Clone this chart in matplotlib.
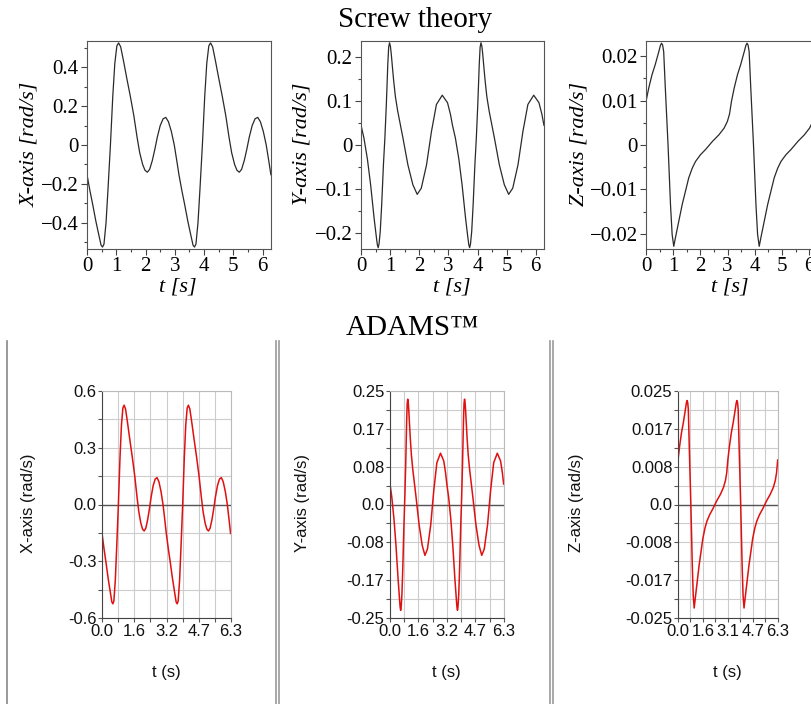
import numpy as np
import matplotlib.pyplot as plt
from matplotlib.lines import Line2D
from matplotlib.ticker import MultipleLocator

# angular velocity of the platform
t_x = [0.00, 0.10, 0.20, 0.30, 0.40, 0.48, 0.53, 0.58, 0.65, 0.72, 0.80, 0.88,
       0.95, 1.02, 1.08, 1.15, 1.25, 1.35, 1.48, 1.60, 1.71, 1.80, 1.90, 1.98,
       2.06, 2.14, 2.23, 2.32, 2.40, 2.50, 2.60, 2.69, 2.78, 2.88, 2.98, 3.06,
       3.14, 3.24, 3.34, 3.44, 3.54, 3.62, 3.67, 3.72, 3.79, 3.86, 3.94, 4.02,
       4.09, 4.16, 4.22, 4.29, 4.39, 4.49, 4.62, 4.74, 4.85, 4.94, 5.04, 5.12,
       5.20, 5.28, 5.37, 5.46, 5.54, 5.64, 5.74, 5.83, 5.92, 6.02, 6.12, 6.20,
       6.28]
x_rate = [-0.153, -0.235, -0.31, -0.39, -0.46, -0.515, -0.525, -0.51, -0.40, -0.22, 0.00, 0.25,
          0.42, 0.51, 0.525, 0.505, 0.43, 0.35, 0.25, 0.15, 0.04, -0.04, -0.10, -0.13,
          -0.14, -0.125, -0.08, -0.02, 0.04, 0.10, 0.135, 0.142, 0.12, 0.07, 0.0, -0.075,
          -0.153, -0.235, -0.31, -0.39, -0.46, -0.515, -0.525, -0.51, -0.40, -0.22, 0.00, 0.25,
          0.42, 0.51, 0.525, 0.505, 0.43, 0.35, 0.25, 0.15, 0.04, -0.04, -0.10, -0.13,
          -0.14, -0.125, -0.08, -0.02, 0.04, 0.10, 0.135, 0.142, 0.12, 0.07, 0.0, -0.075,
          -0.153]

t_y = [0.00, 0.10, 0.22, 0.33, 0.45, 0.52, 0.56, 0.59, 0.62, 0.66, 0.71, 0.77,
       0.82, 0.87, 0.92, 0.95, 0.98, 1.01, 1.04, 1.08, 1.12, 1.18, 1.26, 1.44,
       1.61, 1.78, 1.93, 2.07, 2.25, 2.42, 2.59, 2.79, 2.97, 3.07,
       3.14, 3.24, 3.36, 3.47, 3.59, 3.66, 3.70, 3.73, 3.76, 3.80, 3.85, 3.91,
       3.96, 4.01, 4.06, 4.09, 4.12, 4.15, 4.18, 4.22, 4.26, 4.32, 4.40, 4.58,
       4.75, 4.92, 5.07, 5.21, 5.39, 5.56, 5.73, 5.93, 6.11, 6.21, 6.28]
y_rate = [0.045, 0.016, -0.032, -0.09, -0.166, -0.205, -0.226, -0.233, -0.224, -0.197, -0.136, -0.045,
          0.016, 0.092, 0.183, 0.222, 0.232, 0.224, 0.206, 0.176, 0.147, 0.110, 0.077, 0.016,
          -0.045, -0.09, -0.112, -0.098, -0.045, 0.031, 0.092, 0.113, 0.096, 0.07,
          0.045, 0.016, -0.032, -0.09, -0.166, -0.205, -0.226, -0.233, -0.224, -0.197, -0.136, -0.045,
          0.016, 0.092, 0.183, 0.222, 0.232, 0.224, 0.206, 0.176, 0.147, 0.110, 0.077, 0.016,
          -0.045, -0.09, -0.112, -0.098, -0.045, 0.031, 0.092, 0.113, 0.096, 0.07, 0.045]

t_z = [0.00, 0.10, 0.22, 0.34, 0.47, 0.53, 0.57, 0.61, 0.65, 0.71, 0.81, 0.90,
       0.96, 1.02, 1.08, 1.18, 1.33, 1.45, 1.57, 1.70, 1.82, 2.00, 2.19, 2.44,
       2.68, 2.87, 2.99, 3.07,
       3.14, 3.24, 3.36, 3.48, 3.61, 3.67, 3.71, 3.75, 3.79, 3.85, 3.95, 4.04,
       4.10, 4.16, 4.22, 4.32, 4.47, 4.59, 4.71, 4.84, 4.96, 5.14, 5.33, 5.58,
       5.82, 6.01, 6.13, 6.21, 6.28]
z_rate = [0.0098, 0.0128, 0.0158, 0.0181, 0.0210, 0.0224, 0.0229, 0.0225, 0.0210, 0.0128, 0.0, -0.0134,
          -0.0201, -0.0228, -0.0209, -0.0179, -0.0134, -0.0104, -0.0074, -0.0052, -0.0037, -0.0022, -0.0010, 0.0008,
          0.0023, 0.0038, 0.0053, 0.0070,
          0.0098, 0.0128, 0.0158, 0.0181, 0.0210, 0.0224, 0.0229, 0.0225, 0.0210, 0.0128, 0.0, -0.0134,
          -0.0201, -0.0228, -0.0209, -0.0179, -0.0134, -0.0104, -0.0074, -0.0052, -0.0037, -0.0022, -0.0010, 0.0008,
          0.0023, 0.0038, 0.0053, 0.0070, 0.0098]

series = [(t_x, x_rate), (t_y, y_rate), (t_z, z_rate)]
names = ['X', 'Y', 'Z']

# Maple (top row) tick labels
maple_lim = [0.535, 0.236, 0.0234]
maple_yticks = [[-0.4, -0.2, 0, 0.2, 0.4], [-0.2, -0.1, 0, 0.1, 0.2], [-0.02, -0.01, 0, 0.01, 0.02]]
maple_ylabels = [['\u22120.4', '\u22120.2', '0', '0.2', '0.4'],
                 ['\u22120.2', '\u22120.1', '0', '0.1', '0.2'],
                 ['\u22120.02', '\u22120.01', '0', '0.01', '0.02']]
maple_minor = [0.1, 0.05, 0.005]
maple_xticks = [0, 1, 2, 3, 4, 5, 6]

# ADAMS (bottom row) tick labels
adams_lim = [0.6, 0.25, 0.025]
adams_ylabels = [['-0.6', '-0.3', '0.0', '0.3', '0.6'],
                 ['-0.25', '-0.17', '-0.08', '0.0', '0.08', '0.17', '0.25'],
                 ['-0.025', '-0.017', '-0.008', '0.0', '0.008', '0.017', '0.025']]
adams_xticks = [0.0, 1.575, 3.15, 4.725, 6.3]
adams_xlabels = [['0.0', '1.6', '3.2', '4.7', '6.3'],
                 ['0.0', '1.6', '3.2', '4.7', '6.3'],
                 ['0.0', '1.6', '3.1', '4.7', '6.3']]

W, H = 812, 704
fig = plt.figure(figsize=(W / 100, H / 100), dpi=100)

def px(x, y):
    return x / W, 1 - y / H

def rect(left, top, right, bottom):
    return [left / W, 1 - bottom / H, (right - left) / W, (bottom - top) / H]

serif = 'Liberation Serif'
sans = 'Liberation Sans'

# --- top row: screw theory ---
fig.text(*px(415, 20), 'Screw theory', ha='center', va='center', family=serif, fontsize=21)
top_boxes = [(87, 41, 271, 249), (361, 41, 544, 249), (646, 41, 817, 249)]
top_ylab_x = [30, 302, 579]
for i, (t, v) in enumerate(series):
    ax = fig.add_axes(rect(*top_boxes[i]))
    ax.plot(t, v, color='#2a2a2a', lw=0.9)
    ax.set_xlim(0, 2 * np.pi)
    ax.set_ylim(-maple_lim[i], maple_lim[i])
    ax.set_xticks(maple_xticks, [str(k) for k in maple_xticks])
    ax.set_yticks(maple_yticks[i], maple_ylabels[i])
    ax.xaxis.set_minor_locator(MultipleLocator(0.5))
    ax.yaxis.set_minor_locator(MultipleLocator(maple_minor[i]))
    ax.tick_params(which='both', direction='out', width=0.8, color='#444444', labelsize=15, pad=2)
    ax.tick_params(which='major', length=4)
    ax.tick_params(which='minor', length=2.5)
    for lab in ax.get_xticklabels() + ax.get_yticklabels():
        lab.set_family(serif)
    for s in ax.spines.values():
        s.set_color('#555555')
        s.set_linewidth(0.8)
    fig.text(*px(top_ylab_x[i], 144), names[i] + '-axis [rad/s]', rotation=90, ha='center', va='center',
             family=serif, style='italic', fontsize=16)
    fig.text(*px([178, 452, 730][i], 287), 't [s]', ha='center', va='center',
             family=serif, style='italic', fontsize=16)

# --- bottom row: ADAMS ---
fig.text(*px(412, 328), 'ADAMS\u2122', ha='center', va='center', family=serif, fontsize=21)
bot_boxes = [(102, 391, 231, 618), (390, 391, 504, 618), (678, 391, 778, 618)]
bot_ylab_x = [29, 303, 577]
for i, (t, v) in enumerate(series):
    ax = fig.add_axes(rect(*bot_boxes[i]))
    lim = adams_lim[i]
    n = len(adams_ylabels[i]) - 1
    yt = np.linspace(-lim, lim, n + 1)
    ax.set_xlim(0, 6.3)
    ax.set_ylim(-lim, lim)
    ax.set_xticks(adams_xticks, adams_xlabels[i])
    ax.set_yticks(yt, adams_ylabels[i])
    ax.set_xticks(np.linspace(0, 6.3, 9), minor=True)
    ax.set_yticks(np.linspace(-lim, lim, 2 * n + 1), minor=True)
    ax.grid(which='both', color='#cccccc', lw=0.8)
    ax.set_axisbelow(True)
    ax.axhline(0, color='#555555', lw=1.0)
    ax.plot(t, v, color='#e01010', lw=1.1)
    ax.tick_params(which='both', direction='out', length=3, width=0.8, color='#555555',
                   labelsize=12, pad=1)
    for lab in ax.get_xticklabels() + ax.get_yticklabels():
        lab.set_family(sans)
        lab.set_color('#111111')
    ax.spines['left'].set_color('#444444')
    ax.spines['bottom'].set_color('#444444')
    ax.spines['top'].set_color('#bbbbbb')
    ax.spines['right'].set_color('#bbbbbb')
    fig.text(*px(bot_ylab_x[i], 503), names[i] + '-axis (rad/s)', rotation=90, ha='center', va='center',
             family=sans, fontsize=12, color='#111111')
    fig.text(*px([166, 446, 727][i], 672), 't (s)', ha='center', va='center',
             family=sans, fontsize=12, color='#111111')

# panel separators
fig.add_artist(Line2D([7 / W, 7 / W], [0, 1 - 341 / H], color='#888888', lw=1.2))
for x in [276, 279, 550, 553]:
    fig.add_artist(Line2D([x / W, x / W], [0, 1 - 341 / H], color='#999999', lw=1.2))

plt.savefig('out.png', dpi=100)
